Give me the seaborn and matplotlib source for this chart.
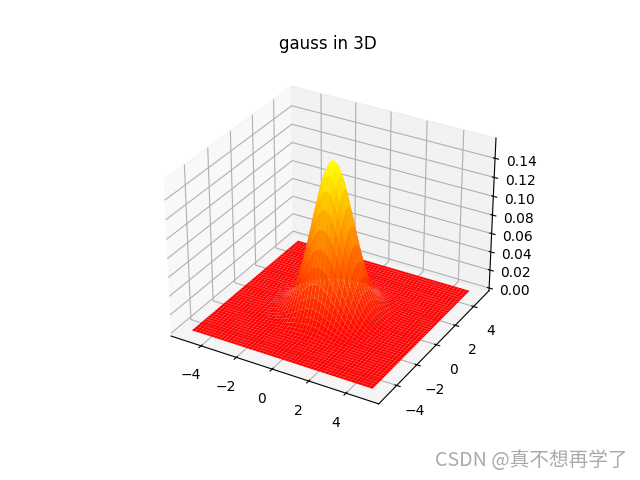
import numpy as np
import matplotlib
matplotlib.use('Agg')
import matplotlib.pyplot as plt
import seaborn as sns

# cross section of the bump along one axis
axis_vals = [-5.0, -4.8, -4.6, -4.4, -4.2, -4.0, -3.8, -3.6, -3.4, -3.2, -3.0, -2.8, -2.6,
             -2.4, -2.2, -2.0, -1.8, -1.6, -1.4, -1.2, -1.0, -0.8, -0.6, -0.4, -0.2, 0.0,
             0.2, 0.4, 0.6, 0.8, 1.0, 1.2, 1.4, 1.6, 1.8, 2.0, 2.2, 2.4, 2.6,
             2.8, 3.0, 3.2, 3.4, 3.6, 3.8, 4.0, 4.2, 4.4, 4.6, 4.8, 5.0]
profile = [0.0, 0.0, 0.0, 0.0, 0.0001, 0.0001, 0.0003, 0.0006, 0.0012, 0.0024, 0.0044, 0.0079, 0.0136,
           0.0224, 0.0355, 0.054, 0.079, 0.1109, 0.1497, 0.1942, 0.242, 0.2897, 0.3332, 0.3683, 0.391, 0.3989,
           0.391, 0.3683, 0.3332, 0.2897, 0.242, 0.1942, 0.1497, 0.1109, 0.079, 0.054, 0.0355, 0.0224, 0.0136,
           0.0079, 0.0044, 0.0024, 0.0012, 0.0006, 0.0003, 0.0001, 0.0001, 0.0, 0.0, 0.0, 0.0]
z_ticks = [0.0, 0.02, 0.04, 0.06, 0.08, 0.10, 0.12, 0.14]
title = 'gauss in 3D'
watermark = 'CSDN @真不想再学了'

X, Y = np.meshgrid(axis_vals, axis_vals)
Z = np.outer(profile, profile)

fig = plt.figure(figsize=(6.4, 4.8), dpi=100)
ax = fig.add_subplot(projection='3d')
ax.plot_surface(X, Y, Z, cmap=sns.color_palette('autumn', as_cmap=True),
                rstride=1, cstride=1)
ax.set_zlim(-0.003, 0.1609)
ax.set_zticks(z_ticks)
ax.set_title(title)

# site stamp in the bottom right corner
fig.text(0.98, 0.04, watermark, ha='right', va='center', fontsize=14.1, color='#aaaaaa',
         family=['Noto Sans CJK SC', 'DejaVu Sans'])

fig.savefig('out.png', dpi=100)
